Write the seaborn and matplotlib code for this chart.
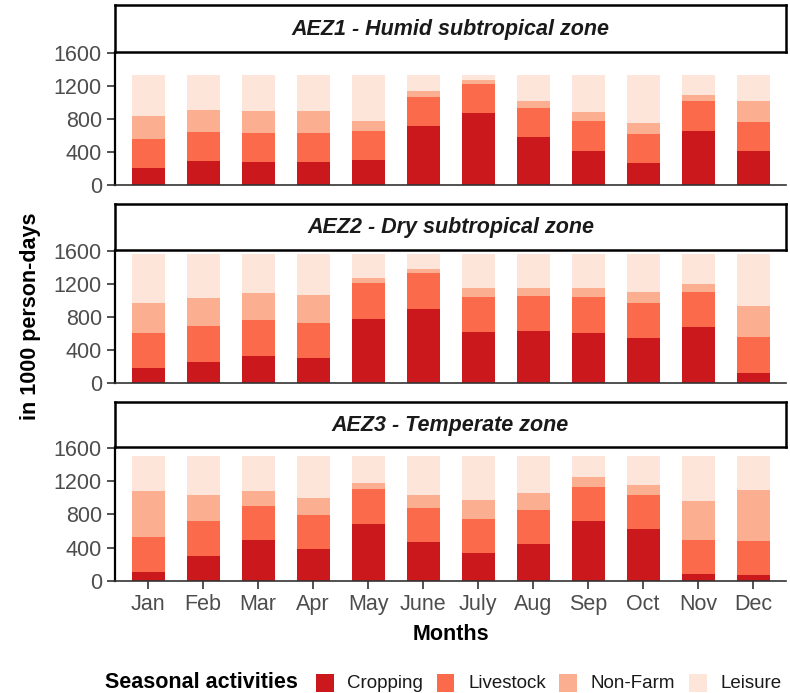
import matplotlib
matplotlib.use("Agg")
import matplotlib.pyplot as plt
import matplotlib.patches as mpatches
import seaborn as sns
import pandas as pd
import numpy as np

months = ["Jan", "Feb", "Mar", "Apr", "May", "June", "July", "Aug", "Sep", "Oct", "Nov", "Dec"]
activities = ["Cropping", "Livestock", "Non-Farm", "Leisure"]
colors = ["#CB181D", "#FB6A4A", "#FCAE91", "#FEE5D9"]
zones = ["AEZ1 - Humid subtropical zone", "AEZ2 - Dry subtropical zone", "AEZ3 - Temperate zone"]

# values in 1000 person-days
aez1_cropping = [207, 288, 280, 275, 300, 713, 867, 583, 417, 267, 656, 409]
aez1_livestock = [355, 355, 355, 355, 355, 355, 355, 355, 355, 355, 355, 355]
aez1_nonfarm = [272, 264, 264, 265, 119, 66, 46, 79, 107, 127, 74, 249]
aez1_leisure = [496, 423, 431, 435, 556, 196, 62, 313, 451, 581, 245, 317]

aez2_cropping = [179, 257, 330, 297, 778, 900, 619, 631, 611, 542, 672, 126]
aez2_livestock = [428, 428, 428, 428, 428, 428, 428, 428, 428, 428, 428, 428]
aez2_nonfarm = [366, 349, 329, 338, 68, 48, 109, 97, 109, 129, 101, 378]
aez2_leisure = [587, 526, 473, 497, 286, 184, 404, 404, 412, 461, 359, 628]

aez3_cropping = [114, 305, 495, 382, 690, 471, 337, 447, 719, 625, 85, 73]
aez3_livestock = [410, 410, 410, 410, 410, 410, 410, 410, 410, 410, 410, 410]
aez3_nonfarm = [560, 324, 179, 207, 81, 150, 223, 199, 126, 114, 471, 613]
aez3_leisure = [416, 461, 416, 501, 319, 469, 530, 444, 245, 351, 534, 404]

zone_data = [
    [aez1_cropping, aez1_livestock, aez1_nonfarm, aez1_leisure],
    [aez2_cropping, aez2_livestock, aez2_nonfarm, aez2_leisure],
    [aez3_cropping, aez3_livestock, aez3_nonfarm, aez3_leisure],
]
yticks = [0, 400, 800, 1200, 1600]

sns.set_theme(style="white")
FONT = ["Liberation Sans", "DejaVu Sans"]
plt.rcParams["font.family"] = FONT

W, H = 790, 693
fig = plt.figure(figsize=(W / 100, H / 100), dpi=100)

left_px, right_px = 115, 786
panels = [(52, 185), (250, 383), (447, 581)]
strips = [(5, 52), (204, 250), (402, 447)]

def fx(px):
    return px / W

def fy(py):
    return 1 - py / H

for i, (zone, series) in enumerate(zip(zones, zone_data)):
    top, bot = panels[i]
    ax = fig.add_axes([fx(left_px), fy(bot), fx(right_px - left_px), (bot - top) / H])
    df = pd.DataFrame({"month": months})
    cum = np.zeros(len(months))
    cums = []
    for s in series:
        cum = cum + np.array(s)
        cums.append(cum.copy())
    for k in range(len(activities) - 1, -1, -1):
        df["val"] = cums[k]
        sns.barplot(data=df, x="month", y="val", order=months, color=colors[k],
                    saturation=1, width=0.6, linewidth=0, ax=ax, errorbar=None)
    ax.set_xlim(-0.6, 11.6)
    ax.set_ylim(0, 1610)
    ax.set_yticks(yticks)
    ax.set_yticklabels([str(t) for t in yticks])
    ax.set_xlabel("")
    ax.set_ylabel("")
    for sp in ["top", "right"]:
        ax.spines[sp].set_visible(False)
    ax.spines["left"].set_color("black")
    ax.spines["left"].set_linewidth(1.6)
    ax.spines["bottom"].set_color("#333333")
    ax.spines["bottom"].set_linewidth(1.2)
    ax.tick_params(axis="y", length=5.5, width=1.2, color="#333333", labelcolor="#4D4D4D",
                   labelsize=15.5, pad=4, left=True)
    if i == 2:
        ax.tick_params(axis="x", length=5.5, width=1.2, color="#333333", labelcolor="#4D4D4D",
                       labelsize=15.5, pad=4, bottom=True)
    else:
        ax.tick_params(axis="x", bottom=False, labelbottom=False)
    ax.set_facecolor("white")

    st, sb = strips[i]
    sax = fig.add_axes([fx(left_px), fy(sb), fx(right_px - left_px), (sb - st) / H])
    sax.set_xticks([])
    sax.set_yticks([])
    for sp in sax.spines.values():
        sp.set_color("black")
        sp.set_linewidth(1.8)
    sax.set_facecolor("white")
    sax.text(0.5, 0.48, zone, ha="center", va="center", fontsize=15.5,
             fontweight="bold", fontstyle="italic", color="#1A1A1A", transform=sax.transAxes)

fig.text(fx(31), fy(316.5), "in 1000 person-days", rotation=90, ha="center", va="center",
         fontsize=15.5, fontweight="bold", color="black")
fig.text(fx((left_px + right_px) / 2), fy(634), "Months", ha="center", va="center",
         fontsize=15.5, fontweight="bold", color="black")

# legend
fig.text(fx(105), fy(683), "Seasonal activities", ha="left", va="center",
         fontsize=15.5, fontweight="bold", color="black")
key_x = [316, 437, 559, 689]
text_x = [347, 468, 591, 720]
for c, a, kx, tx in zip(colors, activities, key_x, text_x):
    fig.patches.append(mpatches.Rectangle((fx(kx), fy(691.5)), fx(17.5), 17.5 / H,
                                          facecolor=c, edgecolor="none",
                                          transform=fig.transFigure, figure=fig))
    fig.text(fx(tx), fy(683), a, ha="left", va="center", fontsize=13.5, color="#1A1A1A")

fig.savefig("out.png", dpi=100, facecolor="white")
